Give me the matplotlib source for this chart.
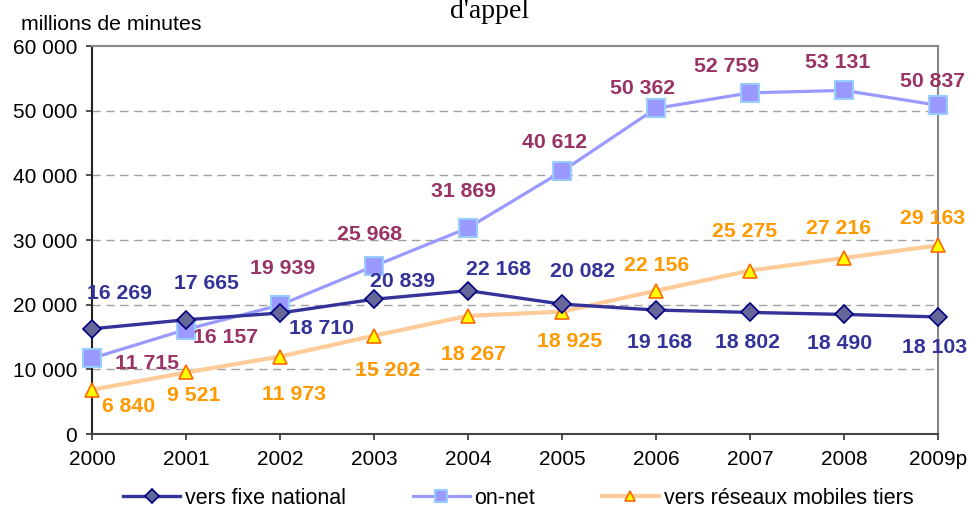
import matplotlib
matplotlib.use("Agg")
import matplotlib.pyplot as plt
from matplotlib.ticker import FuncFormatter

years = ["2000", "2001", "2002", "2003", "2004", "2005", "2006", "2007", "2008", "2009p"]
fixe = [16269, 17665, 18710, 20839, 22168, 20082, 19168, 18802, 18490, 18103]
onnet = [11715, 16157, 19939, 25968, 31869, 40612, 50362, 52759, 53131, 50837]
mobiles = [6840, 9521, 11973, 15202, 18267, 18925, 22156, 25275, 27216, 29163]

# label offsets in pixels (dx, dy) from each point
off_fixe = [(28, 35), (20, 36), (42, -15), (29, 18), (31, 21), (21, 33), (4, -32), (-2, -30), (-4, -29), (-3, -31)]
off_onnet = [(55, -5), (40, -8), (3, 37), (-4, 32), (-4, 36), (-7, 29), (-13, 20), (-23, 26), (-6, 28), (-5, 24)]
off_mob = [(37, -17), (8, -23), (14, -38), (14, -35), (5, -39), (8, -30), (1, 25), (-5, 39), (-5, 30), (-5, 27)]

plt.rcParams['font.family'] = ['Liberation Sans', 'DejaVu Sans']

fig = plt.figure(figsize=(9.7, 5.11), dpi=100)
ax = fig.add_axes([92 / 970, 1 - 434 / 511, (938 - 92) / 970, (434 - 46) / 511])

x = list(range(len(years)))
ax.plot(x, fixe, color='#333399', lw=2.4, marker='D', ms=9.5, mfc='#666699', mec='#000080', mew=1.2,
        label='vers fixe national', zorder=5, clip_on=False)
ax.plot(x, onnet, color='#9999FF', lw=2.3, marker='s', ms=13, mfc='#9999FF', mec='#99CCFF', mew=1.5,
        label='on-net', zorder=4, clip_on=False)
ax.plot(x, mobiles, color='#FFCC99', lw=3, marker='^', ms=9.5, mfc='#FFFF00', mec='#FF6600', mew=1.2,
        label='vers réseaux mobiles tiers', zorder=3, clip_on=False)

def fmt(v):
    return f"{v:,}".replace(",", " ")

for vals, offs, col in [(fixe, off_fixe, '#333399'), (onnet, off_onnet, '#993366'), (mobiles, off_mob, '#FF9900')]:
    for i, v in enumerate(vals):
        ax.annotate(fmt(v), (i, v), xytext=offs[i], textcoords='offset pixels',
                    ha='center', va='center', fontsize=15.3, fontweight='bold', color=col, zorder=10)

ax.set_xlim(0, len(years) - 1)
ax.set_ylim(0, 60000)
ax.set_yticks(range(0, 60001, 10000))
ax.yaxis.set_major_formatter(FuncFormatter(lambda v, p: fmt(int(v))))
ax.set_xticks(x)
ax.set_xticklabels(years)
ax.tick_params(axis='both', labelsize=15, direction='out', length=4.3, width=1.2, color='#333333')
ax.tick_params(axis='y', pad=6.5)
ax.tick_params(axis='x', pad=7)

for v in range(10000, 60000, 10000):
    ax.axhline(v, color='#A0A0A0', lw=1, ls=(0, (6, 4)), zorder=1)

ax.spines['left'].set_color('#222222')
ax.spines['bottom'].set_color('#444444')
ax.spines['left'].set_linewidth(1.5)
ax.spines['bottom'].set_linewidth(1.5)
ax.spines['top'].set_color('#888888')
ax.spines['right'].set_color('#888888')
ax.spines['top'].set_linewidth(1.5)
ax.spines['right'].set_linewidth(1.5)
for s in ax.spines.values():
    s.set_zorder(2)

fig.text(21 / 970, 1 - 24 / 511, "millions de minutes", fontsize=15.3, va='center', ha='left')
fig.text(490 / 970, 1 - 18 / 511, "d'appel", fontsize=20, va='baseline', ha='center',
         family='Liberation Serif')

fig.legend(loc='center left', bbox_to_anchor=(123 / 970, 1 - 498 / 511), ncol=3, frameon=False,
           fontsize=15.5, handlelength=2.65, columnspacing=3.1, handletextpad=0.22,
           borderaxespad=0, borderpad=0, markerscale=0.7)

fig.savefig("out.png", dpi=100)
